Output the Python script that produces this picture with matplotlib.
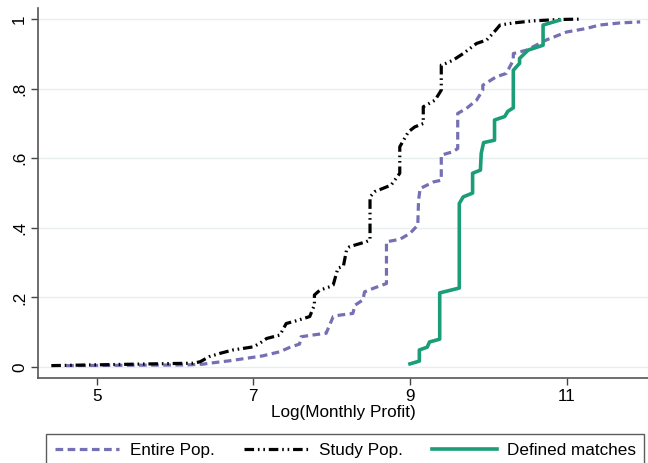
import matplotlib
matplotlib.use('Agg')
import matplotlib.pyplot as plt

plt.rcParams['font.family'] = ['Liberation Sans', 'DejaVu Sans']

# Entire population CDF (x = log monthly profit, y = cumulative share)
entire_x = [4.61, 6.15, 6.35, 6.48, 6.70, 6.91, 7.12, 7.34, 7.46, 7.59, 7.61, 7.76, 7.93,
            8.02, 8.10, 8.27, 8.30, 8.40, 8.42, 8.53, 8.70, 8.70, 8.87, 9.00, 9.10, 9.11,
            9.13, 9.30, 9.40, 9.40, 9.55, 9.61, 9.61, 9.72, 9.85, 9.93, 9.93, 10.10, 10.23,
            10.32, 10.32, 10.49, 10.74, 11.00, 11.25, 11.42, 11.68, 11.94]
entire_y = [0.004, 0.006, 0.008, 0.012, 0.018, 0.025, 0.032, 0.044, 0.056, 0.066, 0.087, 0.092, 0.097,
            0.145, 0.149, 0.154, 0.178, 0.193, 0.216, 0.226, 0.240, 0.360, 0.367, 0.384, 0.408, 0.480,
            0.513, 0.532, 0.537, 0.609, 0.619, 0.628, 0.729, 0.743, 0.767, 0.796, 0.810, 0.834, 0.844,
            0.882, 0.901, 0.911, 0.940, 0.963, 0.973, 0.983, 0.989, 0.992]

# Study population CDF
study_x = [4.42, 6.23, 6.32, 6.44, 6.57, 6.74, 7.00, 7.08, 7.17, 7.34, 7.42, 7.55, 7.72, 7.78,
           7.78, 7.85, 7.98, 8.02, 8.08, 8.15, 8.19, 8.23, 8.44, 8.49, 8.49, 8.55, 8.76, 8.87,
           8.87, 8.98, 9.06, 9.17, 9.17, 9.32, 9.40, 9.40, 9.46, 9.55, 9.68, 9.85, 9.98, 10.06,
           10.15, 10.32, 10.57, 10.91, 11.17]
study_y = [0.004, 0.011, 0.015, 0.030, 0.039, 0.049, 0.058, 0.068, 0.082, 0.092, 0.125, 0.133, 0.145, 0.178,
           0.207, 0.221, 0.231, 0.236, 0.284, 0.290, 0.336, 0.346, 0.360, 0.365, 0.489, 0.504, 0.523, 0.557,
           0.633, 0.676, 0.690, 0.700, 0.748, 0.767, 0.796, 0.868, 0.873, 0.882, 0.901, 0.930, 0.940, 0.959,
           0.983, 0.989, 0.995, 0.999, 1.000]

# Defined matches CDF
match_x = [9.00, 9.12, 9.12, 9.22, 9.25, 9.38, 9.38, 9.63, 9.63, 9.68, 9.80, 9.80, 9.90, 9.91,
           9.94, 10.08, 10.08, 10.21, 10.25, 10.32, 10.32, 10.40, 10.40, 10.51, 10.70, 10.70, 10.91]
match_y = [0.009, 0.017, 0.049, 0.057, 0.072, 0.080, 0.213, 0.227, 0.470, 0.489, 0.500, 0.557, 0.566, 0.614,
           0.645, 0.652, 0.710, 0.720, 0.735, 0.745, 0.853, 0.873, 0.887, 0.911, 0.925, 0.983, 0.997]

x_ticks = [5, 7, 9, 11]
y_ticks = [0, 0.2, 0.4, 0.6, 0.8, 1.0]
y_labels = ['0', '.2', '.4', '.6', '.8', '1']

fs = 12.3

fig = plt.figure(figsize=(6.48, 4.63), dpi=100)
ax = fig.add_axes([38/648, 1 - 378/463, 610/648, 370/463])

ax.plot(entire_x, entire_y, color='#7570b3', lw=2.3, dashes=(2.4, 1.4), label='Entire Pop.')
ax.plot(study_x, study_y, color='black', lw=2.3, dashes=(3, 1.2, 0.5, 1.2, 0.5, 1.2), label='Study Pop.')
ax.plot(match_x, match_y, color='#1b9e77', lw=2.6, label='Defined matches')

ax.set_xlim(4.25, 12.04)
ax.set_ylim(-0.0316, 1.032)
ax.set_xticks(x_ticks)
ax.set_xticklabels([str(v) for v in x_ticks])
ax.set_yticks(y_ticks)
ax.set_yticklabels(y_labels, rotation=90, va='center')
ax.tick_params(labelsize=fs, length=5, width=1, color='#444444', direction='out', pad=3)
ax.set_xlabel('Log(Monthly Profit)', fontsize=fs, labelpad=1)

for s in ['top', 'right']:
    ax.spines[s].set_visible(False)
for s in ['left', 'bottom']:
    ax.spines[s].set_color('#555555')
    ax.spines[s].set_linewidth(1.2)
ax.yaxis.grid(True, color='#e6eef0', lw=1)
ax.set_axisbelow(True)

leg = fig.legend(loc='upper left', bbox_to_anchor=(46/648, 1 - 434/463),
                 ncol=3, fontsize=fs, frameon=True, fancybox=False,
                 edgecolor='#333333', handlelength=3.8, handletextpad=0.6,
                 columnspacing=1.7, borderpad=0.5, borderaxespad=0)
leg.get_frame().set_linewidth(1.0)

fig.savefig('out.png', dpi=100)
